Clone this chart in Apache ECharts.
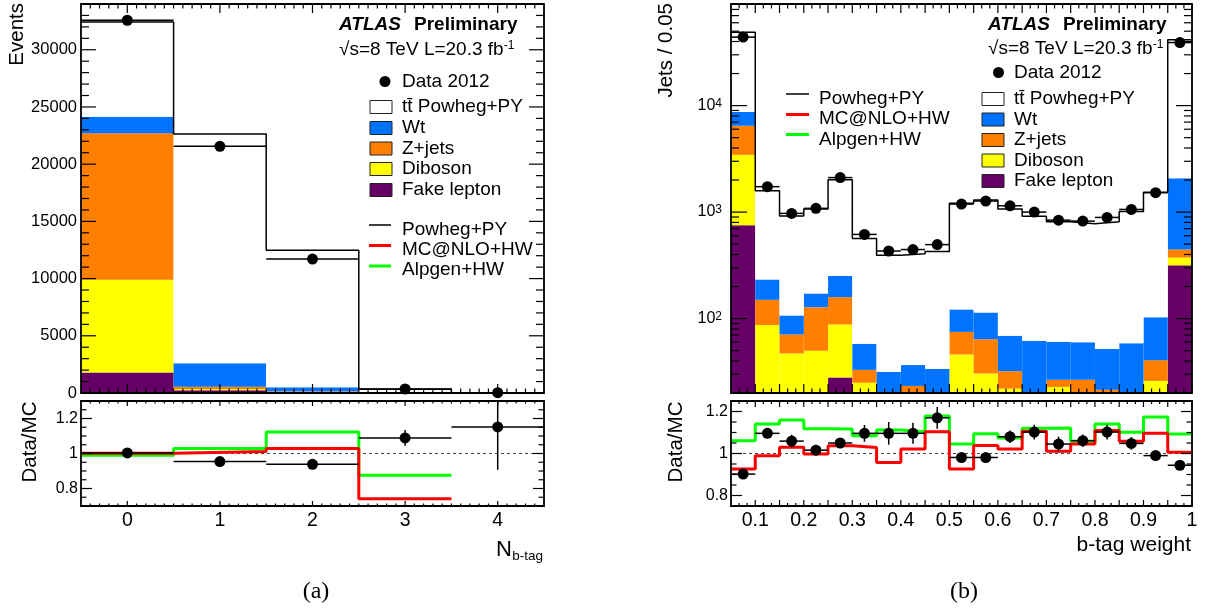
<!DOCTYPE html>
<html><head><meta charset="utf-8">
<script src="https://cdn.jsdelivr.net/npm/echarts@6/dist/echarts.min.js"></script>
<style>html,body{margin:0;padding:0;background:#fff}#c{width:1205px;height:610px}</style>
</head><body><div id="c"></div>
<script>
// ---------- (a) N b-tag ----------
const nbEdges = [-0.5, 0.5, 1.5, 2.5, 3.5, 4.5];
const nbTickLabels = [0, 1, 2, 3, 4];
const nbYTicks = [0, 5000, 10000, 15000, 20000, 25000, 30000];
const nbFake = [1800, 250, 100, 5, 1];
const nbDiboson = [8100, 100, 20, 2, 0];
const nbZjets = [12800, 200, 40, 3, 0];
const nbWt = [1450, 2040, 340, 20, 3];
const nbTtbar = [8270, 20050, 11970, 290, 22];
const nbData = [32580, 21560, 11710, 350, 30];
const nbRatio = [1.003, 0.954, 0.938, 1.089, 1.152];
const nbRatioErr = [0.006, 0.007, 0.010, 0.045, 0.245];
const nbMcnloRatio = [1.002, 1.012, 1.029, 0.741];
const nbAlpgenRatio = [0.990, 1.028, 1.123, 0.876];

// ---------- (b) b-tag weight ----------
const bwEdges = [0.05,0.10,0.15,0.20,0.25,0.30,0.35,0.40,0.45,0.50,0.55,0.60,0.65,0.70,0.75,0.80,0.85,0.90,0.95,1.00];
const bwTickLabels = [0.1,0.2,0.3,0.4,0.5,0.6,0.7,0.8,0.9,1.0];
const bwYTicks = [100, 1000, 10000];
const bwFake = [754,3,2,2,28,2,1,1,1,2,2,2,1,1,1,1,1,2,316];
const bwDiboson = [2696,84,45,48,60,23,8,6,5,44,28.5,20,8,21.8,10,8,6,24,58];
const bwZjets = [3020,63,24,78,71,8,4,16.3,5,29,33.5,10,5,3.8,15.6,12.4,5,14.7,71];
const bwWt = [2240,83,36,44,92,25,18.6,13.3,22.7,47,50,37,48,34.1,33.4,30.4,46.5,62.3,1635];
const bwTtbar = [40090,1353,814,900,1757,507,362,370,392,1091,1182,998,852,750,718,759,956,1434,39520];
const bwData = [44000,1733,972,1084,2108,617,431,445,495,1189,1270,1146,1000,840,823,891,1059,1520,39100];
const bwRatio = [0.902,1.096,1.059,1.016,1.050,1.096,1.096,1.096,1.170,0.981,0.981,1.080,1.102,1.045,1.061,1.102,1.048,0.990,0.944];
const bwRatioErr = [0.010,0.015,0.030,0.026,0.015,0.040,0.054,0.050,0.052,0.015,0.015,0.030,0.035,0.035,0.030,0.035,0.030,0.015,0.010];
const bwMcnloRatio = [0.926,0.989,1.030,0.998,1.037,1.029,0.957,1.021,1.104,0.926,1.038,1.022,1.106,1.011,1.045,1.109,1.058,1.096,1.006];
const bwAlpgenRatio = [1.061,1.141,1.160,1.118,1.117,1.085,1.112,1.104,1.178,1.045,1.094,1.074,1.120,1.122,1.058,1.141,1.101,1.174,1.093];

const COL = {fake:'#660066', diboson:'#ffff00', zjets:'#ff7f00', wt:'#0073ff', ttbar:'#ffffff', red:'#ff0000', green:'#00ff00'};
const F = '"Liberation Sans", Arial, Helvetica, sans-serif';

// axis ranges
const NB_X = [-0.5, 4.5], NB_Y = [0, 34000], NB_R = [0.7, 1.3];
const BW_X = [0.05, 1.0], BW_Y = [20, 90000], BW_R = [0.75, 1.25];

function rng(a, b, step) { const out = []; for (let k = 0; ; k++) { const v = +(a + k * step).toFixed(6); if (v > b + 1e-9) break; out.push(v); } return out; }
const isMult = (v, m) => Math.abs(v / m - Math.round(v / m)) < 1e-6;

// ---------- builders ----------
function stackItems(edges, comps, floor) {
  const cum = edges.slice(0, -1).map(() => 0);
  return comps.map(vals => vals.map((v, i) => {
    const lo = cum[i]; cum[i] += v;
    return [edges[i], edges[i + 1], Math.max(lo, floor), cum[i]];
  }).filter(it => it[3] > it[2]));
}
function histSeries(xi, yi, items, color, z) {
  return {type: 'custom', xAxisIndex: xi, yAxisIndex: yi, clip: true, z: z, silent: true,
    encode: {x: [0, 1], y: [2, 3]}, data: items,
    renderItem: function (params, api) {
      const a = api.coord([api.value(0), api.value(3)]);
      const b = api.coord([api.value(1), api.value(2)]);
      return {type: 'rect', shape: {x: a[0], y: a[1], width: b[0] - a[0], height: b[1] - a[1]}, style: {fill: color}};
    }};
}
function stepData(edges, vals) {
  const d = vals.map((v, i) => [edges[i], v]);
  d.push([edges[vals.length], vals[vals.length - 1]]);
  return d;
}
function stepSeries(xi, yi, edges, vals, color, width, z) {
  return {type: 'line', xAxisIndex: xi, yAxisIndex: yi, step: 'end', symbol: 'none', silent: true, z: z,
    data: stepData(edges, vals), lineStyle: {color: color, width: width}, clip: true};
}
function errSeries(xi, yi, edges, vals, errs, z) {
  return {type: 'custom', xAxisIndex: xi, yAxisIndex: yi, clip: true, z: z, silent: true,
    encode: {x: [0, 1], y: 2},
    data: vals.map((v, i) => [edges[i], edges[i + 1], v, errs ? errs[i] : 0]),
    renderItem: function (params, api) {
      const xl = api.value(0), xh = api.value(1), y = api.value(2), e = api.value(3), xc = (xl + xh) / 2;
      const p1 = api.coord([xl, y]), p2 = api.coord([xh, y]);
      const st = {stroke: '#000', lineWidth: 1.5};
      const ch = [{type: 'line', shape: {x1: p1[0], y1: p1[1], x2: p2[0], y2: p2[1]}, style: st}];
      if (e > 0) {
        const q1 = api.coord([xc, y - e]), q2 = api.coord([xc, y + e]);
        ch.push({type: 'line', shape: {x1: q1[0], y1: q1[1], x2: q2[0], y2: q2[1]}, style: st});
      }
      return {type: 'group', children: ch};
    }};
}
function dotSeries(xi, yi, edges, vals, z) {
  return {type: 'scatter', xAxisIndex: xi, yAxisIndex: yi, symbol: 'circle', symbolSize: 11, clip: false, silent: true, z: z,
    itemStyle: {color: '#000', opacity: 1}, data: vals.map((v, i) => [(edges[i] + edges[i + 1]) / 2, v])};
}
function dashSeries(xi, yi, xr) {
  return {type: 'line', xAxisIndex: xi, yAxisIndex: yi, symbol: 'none', silent: true, z: 3,
    data: [[xr[0], 1], [xr[1], 1]], lineStyle: {color: '#444', width: 1, type: [3, 3]}};
}
// frame + inward ticks on all four sides
function frameSeries(xi, yi, xr, yRef, ticks) {
  const data = ticks.map(t => [t[0], t[1], t[2], xr[0], yRef]);
  return {type: 'custom', xAxisIndex: xi, yAxisIndex: yi, clip: false, z: 20, silent: true,
    encode: {x: 3, y: 4}, data: data,
    renderItem: function (params, api) {
      const cs = params.coordSys;
      const kind = api.value(0), v = api.value(1), len = api.value(2);
      const st = {stroke: '#000', lineWidth: 1.2};
      const ch = [];
      if (params.dataIndex === 0) ch.push({type: 'rect', shape: {x: cs.x, y: cs.y, width: cs.width, height: cs.height}, style: {fill: null, stroke: '#000', lineWidth: 1.8}});
      if (kind === 0) {
        const px = api.coord([v, yRef])[0];
        ch.push({type: 'line', shape: {x1: px, y1: cs.y + cs.height, x2: px, y2: cs.y + cs.height - len}, style: st});
        ch.push({type: 'line', shape: {x1: px, y1: cs.y, x2: px, y2: cs.y + len}, style: st});
      } else {
        const py = api.coord([xr[0], v])[1];
        ch.push({type: 'line', shape: {x1: cs.x, y1: py, x2: cs.x + len, y2: py}, style: st});
        ch.push({type: 'line', shape: {x1: cs.x + cs.width, y1: py, x2: cs.x + cs.width - len, y2: py}, style: st});
      }
      return {type: 'group', children: ch};
    }};
}
function tickList(xMaj, xMin, xMajLen, xMinLen, yMaj, yMin, yMajLen, yMinLen) {
  const t = [];
  xMaj.forEach(v => t.push([0, v, xMajLen])); xMin.forEach(v => t.push([0, v, xMinLen]));
  yMaj.forEach(v => t.push([1, v, yMajLen])); yMin.forEach(v => t.push([1, v, yMinLen]));
  return t;
}

// tick positions
const nbXMinor = rng(-0.4, 4.4, 0.1).filter(v => !isMult(v, 1));
const nbYMinor = rng(1000, 34000, 1000).filter(v => !isMult(v, 5000));
const ratioMajor = [0.8, 1.0, 1.2];
const nbRMinor = rng(0.75, 1.25, 0.05).filter(v => !ratioMajor.some(m => Math.abs(m - v) < 1e-6));
const bwRMinor = rng(0.85, 1.15, 0.05).filter(v => !ratioMajor.some(m => Math.abs(m - v) < 1e-6));
const bwXMid = rng(0.15, 0.95, 0.1);
const bwXMinor = rng(0.05, 1.0, 1 / 60).filter(v => !isMult(v, 0.05));
const bwYMinor = [];
[10, 100, 1000, 10000].forEach(d => [2,3,4,5,6,7,8,9].forEach(m => { const v = m * d; if (v > BW_Y[0] && v < BW_Y[1]) bwYMinor.push(v); }));

const nbStack = stackItems(nbEdges, [nbFake, nbDiboson, nbZjets, nbWt, nbTtbar], 0);
const bwStack = stackItems(bwEdges, [bwFake, bwDiboson, bwZjets, bwWt, bwTtbar], BW_Y[0]);
const nbTotal = nbFake.map((v, i) => v + nbDiboson[i] + nbZjets[i] + nbWt[i] + nbTtbar[i]);
const bwTotal = bwFake.map((v, i) => v + bwDiboson[i] + bwZjets[i] + bwWt[i] + bwTtbar[i]);
const stackColors = [COL.fake, COL.diboson, COL.zjets, COL.wt, COL.ttbar];

const series = [];
// (a) main
stackColors.forEach((c, k) => series.push(histSeries(0, 0, nbStack[k], c, 1)));
series.push(stepSeries(0, 0, nbEdges, nbTotal, '#000', 1.5, 4));
series.push(errSeries(0, 0, nbEdges, nbData, null, 5));
series.push(dotSeries(0, 0, nbEdges, nbData, 6));
series.push(frameSeries(0, 0, NB_X, 1000, tickList(nbTickLabels, nbXMinor, 9, 4.5, nbYTicks, nbYMinor, 15, 8)));
// (a) ratio
series.push(dashSeries(1, 1, NB_X));
series.push(stepSeries(1, 1, nbEdges, nbAlpgenRatio, COL.green, 3, 4));
series.push(stepSeries(1, 1, nbEdges, nbMcnloRatio, COL.red, 3, 4));
series.push(errSeries(1, 1, nbEdges, nbRatio, nbRatioErr, 5));
series.push(dotSeries(1, 1, nbEdges, nbRatio, 6));
series.push(frameSeries(1, 1, NB_X, 1, tickList(nbTickLabels, nbXMinor, 5, 2.5, ratioMajor, nbRMinor, 11, 5.5)));
// (b) main
stackColors.forEach((c, k) => series.push(histSeries(2, 2, bwStack[k], c, 1)));
series.push(stepSeries(2, 2, bwEdges, bwTotal, '#000', 1.5, 4));
series.push(errSeries(2, 2, bwEdges, bwData, null, 5));
series.push(dotSeries(2, 2, bwEdges, bwData, 6));
series.push(frameSeries(2, 2, BW_X, 100, tickList(bwTickLabels.concat(bwXMid), bwXMinor, 9, 4.5, bwYTicks, bwYMinor, 16, 8)));
// (b) ratio
series.push(dashSeries(3, 3, BW_X));
series.push(stepSeries(3, 3, bwEdges, bwAlpgenRatio, COL.green, 3, 4));
series.push(stepSeries(3, 3, bwEdges, bwMcnloRatio, COL.red, 3, 4));
series.push(errSeries(3, 3, bwEdges, bwRatio, bwRatioErr, 5));
series.push(dotSeries(3, 3, bwEdges, bwRatio, 6));
series.push(frameSeries(3, 3, BW_X, 1, tickList(bwTickLabels.concat(bwXMid), bwXMinor, 6, 3, ratioMajor, bwRMinor, 11, 5.5)));

const hidden = {axisLine: {show: false}, axisTick: {show: false}, splitLine: {show: false}, minorTick: {show: false}};
function xAx(g, r, labels, fmt) {
  return Object.assign({gridIndex: g, type: 'value', min: r[0], max: r[1],
    axisLabel: labels ? {show: true, customValues: labels, fontSize: 19.5, fontFamily: F, color: '#000', margin: 5, formatter: fmt} : {show: false}}, hidden);
}
function yAx(g, r, labels, size, margin, extra) {
  return Object.assign({gridIndex: g, type: 'value', min: r[0], max: r[1],
    axisLabel: Object.assign({show: true, customValues: labels, fontSize: size, fontFamily: F, color: '#000', margin: margin,
      formatter: v => String(+(+v).toFixed(3))}, extra || {})}, hidden);
}
const supDigits = v => String(Math.round(Math.log10(v)));
const logY = Object.assign(yAx(2, BW_Y, bwYTicks, 16, 9, {
  formatter: v => '{b|10}{s|' + supDigits(v) + '}',
  rich: {b: {fontSize: 16, fontFamily: F, color: '#000'}, s: {fontSize: 12, fontFamily: F, color: '#000', verticalAlign: 'top'}}
}), {type: 'log', logBase: 10});

// ---------- legends / texts ----------
const G = [];
function txt(x, y, text, o) {
  G.push({type: 'text', x: x, y: y, z: 100, rotation: (o && o.rot) || 0,
    style: Object.assign({text: text, fill: '#000', fontSize: 19, fontFamily: F, align: 'left', verticalAlign: 'middle'}, o && o.style)});
}
function box(x, y, color, label, tx) {
  G.push({type: 'rect', z: 100, shape: {x: x, y: y - 6.5, width: 22, height: 13}, style: {fill: color, stroke: '#222', lineWidth: 1}});
  txt(tx, y, label);
}
function lineEntry(x1, x2, yl, color, w, label, tx, yt) {
  G.push({type: 'line', z: 100, shape: {x1: x1, y1: yl, x2: x2, y2: yl}, style: {stroke: color, lineWidth: w}});
  txt(tx, yt, label);
}
function header(x, y1, y2) {
  txt(x, y1, 'ATLAS', {style: {fontWeight: 'bold', fontStyle: 'italic'}});
  txt(x + 75, y1, 'Preliminary', {style: {fontWeight: 'bold'}});
  G.push({type: 'text', x: x, y: y2, z: 100, style: {text: '{n|\u221As=8 TeV L=20.3 fb}{s|-1}', verticalAlign: 'middle', fill: '#000',
    rich: {n: {fontSize: 19, fontFamily: F, color: '#000'}, s: {fontSize: 12, fontFamily: F, color: '#000', verticalAlign: 'top'}}}});
}
const ttLabel = 't' + 't\u0304' + ' Powheg+PY';
// left
header(339, 25, 49.5);
G.push({type: 'circle', z: 100, shape: {cx: 385, cy: 81.5, r: 5.5}, style: {fill: '#000'}});
txt(402, 82, 'Data 2012');
box(370, 107, COL.ttbar, ttLabel, 402);
box(370, 128, COL.wt, 'Wt', 402);
box(370, 148.5, COL.zjets, 'Z+jets', 402);
box(370, 169, COL.diboson, 'Diboson', 402);
box(370, 190, COL.fake, 'Fake lepton', 402);
lineEntry(369, 391, 225, '#000', 1.5, 'Powheg+PY', 402, 229.5);
lineEntry(369, 391, 245.5, COL.red, 3, 'MC@NLO+HW', 402, 250);
lineEntry(369, 391, 266, COL.green, 3, 'Alpgen+HW', 402, 270);
// right
header(988, 25, 48.5);
G.push({type: 'circle', z: 100, shape: {cx: 998.5, cy: 72.5, r: 5.5}, style: {fill: '#000'}});
txt(1014, 73, 'Data 2012');
box(982, 99, COL.ttbar, ttLabel, 1014);
box(982, 119.5, COL.wt, 'Wt', 1014);
box(982, 140, COL.zjets, 'Z+jets', 1014);
box(982, 160.5, COL.diboson, 'Diboson', 1014);
box(982, 181, COL.fake, 'Fake lepton', 1014);
lineEntry(786, 809, 94, '#000', 1.5, 'Powheg+PY', 819, 99);
lineEntry(786, 809, 114.5, COL.red, 3, 'MC@NLO+HW', 819, 119);
lineEntry(786, 809, 134.5, COL.green, 3, 'Alpgen+HW', 819, 139.5);
// axis titles
txt(17, 3, 'Events', {rot: Math.PI / 2, style: {align: 'right', fontSize: 20.5}});
txt(30, 442, 'Data/MC', {rot: Math.PI / 2, style: {align: 'center', fontSize: 20.5}});
txt(666.5, 3, 'Jets / 0.05', {rot: Math.PI / 2, style: {align: 'right', fontSize: 20.5}});
txt(676.5, 442, 'Data/MC', {rot: Math.PI / 2, style: {align: 'center', fontSize: 20.5}});
txt(543, 556, 'b-tag', {style: {align: 'right', fontSize: 13.5}});
txt(512, 549.5, 'N', {style: {align: 'right', fontSize: 22}});
txt(1191, 545, 'b-tag weight', {style: {align: 'right', fontSize: 21}});
txt(316, 592, '(a)', {style: {align: 'center', fontSize: 24, fontFamily: '"Liberation Serif", "Times New Roman", serif'}});
txt(964, 592, '(b)', {style: {align: 'center', fontSize: 24, fontFamily: '"Liberation Serif", "Times New Roman", serif'}});

const option = {
  backgroundColor: '#fff',
  animation: false,
  grid: [
    {left: 81, top: 4, width: 463, height: 389},
    {left: 81, top: 401, width: 463, height: 105},
    {left: 731, top: 4, width: 461, height: 389},
    {left: 731, top: 401, width: 461, height: 105}
  ],
  xAxis: [
    xAx(0, NB_X, null),
    xAx(1, NB_X, nbTickLabels, v => String(Math.round(v))),
    xAx(2, BW_X, null),
    xAx(3, BW_X, bwTickLabels, v => String(+(+v).toFixed(2)))
  ],
  yAxis: [
    yAx(0, NB_Y, nbYTicks, 16.5, 4),
    yAx(1, NB_R, ratioMajor, 16, 3),
    logY,
    yAx(3, BW_R, ratioMajor, 16, 3)
  ],
  series: series,
  graphic: G
};
const chart = echarts.init(document.getElementById('c'), null, {renderer: 'canvas'});
chart.setOption(option);
</script>
</body></html>
